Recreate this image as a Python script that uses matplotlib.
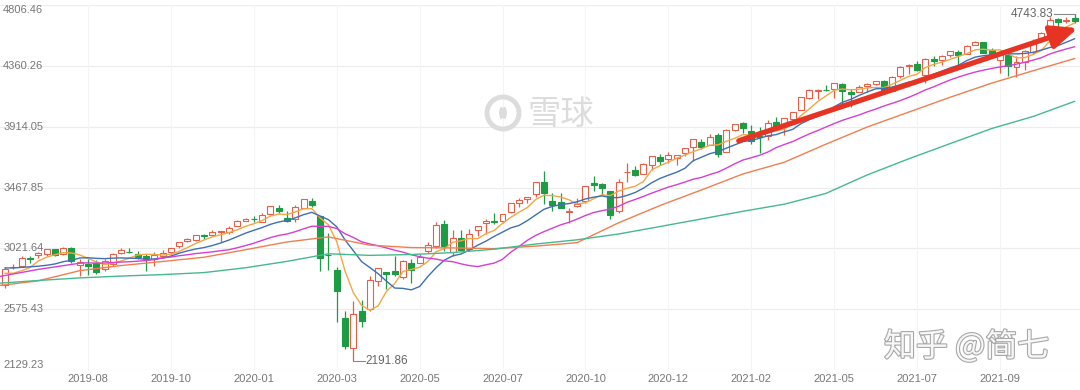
import numpy as np
import matplotlib.pyplot as plt
import matplotlib.transforms as mtransforms
import matplotlib.patheffects as pe
from matplotlib.patches import Ellipse, Arc

plt.rcParams['font.family'] = ['Liberation Sans', 'Noto Sans CJK SC', 'DejaVu Sans']

# weekly candles, S&P 500, week of 2019-06-03 to week of 2021-11-22
open_ = [2751.5, 2885.8, 2889.8, 2951.4, 2971.4, 2979.8, 3017.8, 2981.9, 3024.5, 2898.0,
         2907.0, 2913.5, 2866.7, 2909.0, 2988.4, 2996.4, 2983.5, 2967.0, 2944.2, 2965.8,
         2996.5, 3035.4, 3079.0, 3080.3, 3117.9, 3117.4, 3143.9, 3141.9, 3183.6, 3226.0,
         3240.1, 3218.0, 3271.1, 3321.0, 3247.2, 3235.7, 3318.3, 3369.0, 3257.6, 2974.3,
         2863.9, 2508.6, 2290.7, 2559.0, 2578.3, 2782.5, 2845.6, 2854.7, 2815.0, 2915.5,
         2913.9, 3004.1, 3038.8, 3199.9, 2993.8, 3094.4, 3018.6, 3155.3, 3205.1, 3224.3,
         3219.8, 3288.3, 3356.0, 3380.9, 3418.1, 3507.4, 3371.9, 3363.6, 3285.6, 3333.9,
         3367.3, 3500.0, 3493.5, 3441.4, 3296.2, 3583.0, 3600.2, 3566.8, 3634.2, 3694.7,
         3675.3, 3684.3, 3723.0, 3764.6, 3803.1, 3781.9, 3851.7, 3731.2, 3892.6, 3939.6,
         3885.6, 3842.5, 3844.4, 3949.6, 3916.5, 3969.3, 4034.4, 4124.7, 4179.8, 4185.0,
         4192.0, 4228.3, 4169.9, 4170.2, 4216.5, 4229.3, 4248.3, 4173.4, 4284.9, 4356.5,
         4372.4, 4296.4, 4409.6, 4406.9, 4437.8, 4461.7, 4450.3, 4513.8, 4535.4, 4474.8,
         4403.0, 4442.1, 4348.8, 4385.4, 4463.7, 4553.7, 4610.6, 4701.5, 4689.3, 4712.0]
high = [2884.0, 2910.6, 2964.2, 2964.0, 2995.8, 3017.8, 3017.8, 3028.0, 3028.0, 2944.2,
        2943.3, 2939.1, 2940.4, 2985.9, 3021.0, 3022.0, 2999.2, 2983.8, 2993.3, 3008.3,
        3027.4, 3066.9, 3097.8, 3120.5, 3127.6, 3154.3, 3150.6, 3182.7, 3226.4, 3247.9,
        3258.1, 3283.0, 3329.9, 3337.8, 3293.5, 3337.6, 3385.1, 3393.5, 3259.8, 3136.7,
        2882.6, 2563.0, 2637.0, 2641.4, 2818.6, 2879.2, 2845.6, 2965.0, 2934.3, 2945.8,
        2980.3, 3068.7, 3211.7, 3233.1, 3155.5, 3155.5, 3165.8, 3186.8, 3238.3, 3279.3,
        3272.2, 3352.5, 3387.9, 3400.0, 3509.4, 3588.1, 3425.6, 3428.9, 3320.3, 3393.6,
        3482.3, 3549.9, 3502.4, 3441.4, 3529.0, 3646.0, 3628.5, 3644.3, 3699.2, 3712.4,
        3726.7, 3702.9, 3760.2, 3826.7, 3823.6, 3859.8, 3870.9, 3894.6, 3937.2, 3950.4,
        3928.7, 3914.5, 3960.3, 3983.9, 3978.2, 4020.6, 4129.5, 4191.3, 4194.2, 4218.8,
        4238.0, 4236.4, 4188.7, 4219.6, 4234.1, 4249.7, 4257.2, 4286.1, 4356.2, 4372.9,
        4393.7, 4415.2, 4430.0, 4440.8, 4468.0, 4480.3, 4513.3, 4545.9, 4535.4, 4492.8,
        4465.4, 4457.3, 4430.0, 4475.8, 4559.7, 4608.1, 4718.5, 4714.9, 4717.8, 4743.83]
low = [2728.8, 2868.0, 2882.0, 2912.7, 2952.2, 2963.4, 2966.0, 2976.6, 2914.1, 2822.1,
       2825.7, 2835.0, 2856.0, 2891.9, 2981.5, 2985.6, 2946.0, 2855.9, 2892.7, 2952.9,
       2975.2, 3023.2, 3066.9, 3075.8, 3091.4, 3117.4, 3070.3, 3124.4, 3183.6, 3222.0,
       3212.0, 3214.6, 3263.6, 3281.5, 3214.7, 3214.6, 3315.5, 3328.5, 2855.8, 2860.0,
       2478.9, 2280.5, 2191.86, 2447.5, 2562.2, 2749.0, 2727.1, 2816.8, 2797.9, 2766.6,
       2913.9, 2990.4, 3025.8, 2999.5, 2965.7, 3007.1, 3000.5, 3115.7, 3127.7, 3200.7,
       3204.1, 3284.5, 3327.8, 3354.7, 3399.0, 3349.6, 3293.6, 3322.4, 3209.5, 3323.7,
       3354.5, 3440.5, 3415.0, 3233.9, 3279.7, 3511.9, 3552.6, 3565.9, 3594.4, 3633.4,
       3645.8, 3636.5, 3697.7, 3662.7, 3749.6, 3781.9, 3694.1, 3725.6, 3884.9, 3865.7,
       3789.5, 3723.3, 3819.3, 3901.6, 3853.5, 3939.4, 4034.4, 4118.6, 4118.4, 4176.9,
       4124.7, 4056.9, 4061.4, 4170.2, 4167.6, 4220.3, 4164.4, 4173.4, 4274.9, 4300.6,
       4321.1, 4233.1, 4360.6, 4367.7, 4424.4, 4367.7, 4450.3, 4513.8, 4457.7, 4427.8,
       4305.9, 4288.5, 4278.9, 4329.9, 4447.5, 4537.4, 4595.1, 4630.9, 4672.8, 4672.9]
close = [2873.3, 2887.0, 2950.5, 2941.8, 2990.4, 3013.8, 2976.6, 3025.9, 2932.1, 2918.7,
         2888.7, 2847.1, 2926.5, 2978.7, 3007.4, 2992.1, 2961.8, 2952.0, 2970.3, 2986.2,
         3022.6, 3066.9, 3093.1, 3120.5, 3110.3, 3141.0, 3145.9, 3168.8, 3221.2, 3240.0,
         3234.9, 3265.4, 3329.6, 3295.5, 3225.5, 3327.7, 3380.2, 3337.8, 2954.2, 2972.4,
         2711.0, 2304.9, 2541.5, 2488.7, 2789.8, 2874.6, 2836.7, 2830.7, 2929.8, 2863.7,
         2955.5, 3044.3, 3193.9, 3041.3, 3097.7, 3009.1, 3130.0, 3185.0, 3224.7, 3215.6,
         3271.1, 3351.3, 3372.9, 3397.2, 3508.0, 3427.0, 3341.0, 3319.5, 3298.5, 3348.4,
         3477.1, 3483.8, 3465.4, 3270.0, 3509.4, 3585.2, 3557.5, 3638.4, 3699.1, 3663.5,
         3709.4, 3703.1, 3756.1, 3824.7, 3768.3, 3841.5, 3714.2, 3886.8, 3934.8, 3906.7,
         3811.2, 3841.9, 3943.3, 3913.1, 3974.5, 4019.9, 4128.8, 4185.5, 4180.2, 4181.2,
         4232.6, 4173.9, 4155.9, 4204.1, 4229.9, 4247.4, 4166.5, 4280.7, 4352.3, 4369.6,
         4327.2, 4411.8, 4395.3, 4436.5, 4468.0, 4441.7, 4509.4, 4535.4, 4458.6, 4433.0,
         4455.5, 4357.0, 4391.3, 4471.4, 4544.9, 4605.4, 4697.5, 4682.9, 4698.0, 4690.7]

# moving averages (one value per candle for MA5 / MA10)
ma5 = [2838.5, 2839.6, 2857.8, 2880.9, 2928.6, 2956.7, 2974.6, 2989.7, 2987.8, 2973.4,
       2948.4, 2922.5, 2902.6, 2911.9, 2929.7, 2950.4, 2973.3, 2978.4, 2976.7, 2972.5,
       2978.6, 2999.6, 3027.8, 3057.9, 3082.7, 3106.4, 3122.2, 3137.3, 3157.4, 3183.4,
       3202.2, 3226.1, 3258.2, 3273.1, 3270.2, 3288.7, 3311.7, 3313.3, 3245.1, 3194.5,
       3071.1, 2856.1, 2696.8, 2603.7, 2567.2, 2599.9, 2706.3, 2764.1, 2852.3, 2867.1,
       2883.3, 2924.8, 2997.4, 3019.7, 3066.5, 3077.3, 3094.4, 3092.6, 3129.3, 3152.9,
       3205.3, 3249.5, 3287.1, 3321.6, 3380.1, 3411.3, 3409.2, 3398.5, 3378.8, 3346.9,
       3356.9, 3385.5, 3414.6, 3408.9, 3441.1, 3462.8, 3477.5, 3512.1, 3597.9, 3628.7,
       3653.6, 3682.7, 3706.2, 3731.4, 3752.3, 3778.7, 3781.0, 3807.1, 3829.1, 3856.8,
       3850.7, 3876.3, 3887.6, 3883.2, 3896.8, 3938.5, 3995.9, 4044.4, 4097.8, 4139.1,
       4181.7, 4190.7, 4184.8, 4189.5, 4199.3, 4202.2, 4200.8, 4225.7, 4255.4, 4283.3,
       4299.3, 4348.3, 4371.2, 4388.1, 4407.8, 4430.7, 4450.2, 4478.2, 4482.6, 4475.6,
       4478.4, 4447.9, 4419.1, 4421.6, 4444.0, 4474.0, 4542.1, 4600.4, 4645.7, 4674.9]
ma10 = [2878.3, 2877.8, 2882.1, 2885.7, 2890.8, 2897.6, 2907.1, 2923.8, 2934.4, 2951.0,
        2952.6, 2948.6, 2946.2, 2949.9, 2951.6, 2949.4, 2947.9, 2940.5, 2944.3, 2951.1,
        2964.5, 2986.5, 3003.1, 3017.3, 3027.6, 3042.5, 3060.9, 3082.6, 3107.7, 3133.1,
        3154.3, 3174.2, 3197.8, 3215.3, 3226.8, 3245.5, 3268.9, 3285.8, 3259.1, 3232.4,
        3179.9, 3083.9, 3005.1, 2924.4, 2880.9, 2835.5, 2781.2, 2730.5, 2728.0, 2717.2,
        2741.6, 2815.6, 2880.8, 2936.0, 2966.8, 2980.3, 3009.6, 3045.0, 3074.5, 3109.7,
        3141.3, 3172.0, 3189.9, 3225.5, 3266.5, 3308.3, 3329.4, 3342.8, 3350.2, 3363.5,
        3384.1, 3397.4, 3406.6, 3393.9, 3394.0, 3409.9, 3431.5, 3463.4, 3503.4, 3534.9,
        3558.2, 3580.1, 3609.2, 3664.7, 3690.5, 3716.2, 3731.9, 3756.7, 3780.3, 3804.6,
        3814.7, 3828.7, 3847.4, 3856.2, 3876.8, 3894.6, 3936.1, 3966.0, 3990.5, 4018.0,
        4060.1, 4093.3, 4114.6, 4143.7, 4169.2, 4192.0, 4195.8, 4205.3, 4222.5, 4241.3,
        4250.8, 4274.6, 4298.5, 4321.8, 4345.6, 4365.0, 4399.3, 4424.7, 4435.4, 4441.7,
        4454.6, 4449.1, 4448.7, 4452.1, 4459.8, 4476.2, 4495.0, 4509.8, 4533.7, 4559.5]
# MA20: first three read at candles -1, 4, 9, then one per candle from 10
ma20_idx = [-1, 4, 9] + list(range(10, 130))
ma20 = [2811.6, 2867.5, 2912.7,
        2915.5, 2913.2, 2914.2, 2917.8, 2921.2, 2923.5, 2927.5, 2932.2, 2939.4, 2951.1,
        2958.6, 2967.6, 2974.7, 2983.6, 2989.6, 2996.0, 3004.4, 3011.6, 3026.0, 3042.1,
        3059.4, 3080.4, 3100.5, 3116.3, 3127.2, 3144.0, 3164.9, 3184.2, 3183.4, 3182.8,
        3167.1, 3129.1, 3101.5, 3069.9, 3053.9, 3040.5, 3025.1, 3008.2, 2993.6, 2974.8,
        2960.8, 2949.8, 2943.0, 2930.2, 2923.9, 2907.9, 2895.4, 2887.8, 2901.3, 2913.5,
        2941.5, 2993.8, 3035.4, 3080.8, 3116.7, 3144.3, 3169.5, 3193.9, 3212.4, 3236.6,
        3262.7, 3284.7, 3298.3, 3309.7, 3330.3, 3359.1, 3380.5, 3403.1, 3426.8, 3449.2,
        3471.2, 3488.8, 3507.9, 3529.3, 3542.3, 3563.1, 3581.7, 3610.1, 3641.9, 3669.8,
        3686.5, 3704.4, 3728.3, 3760.5, 3783.7, 3805.4, 3834.0, 3861.4, 3885.4, 3911.3,
        3937.4, 3961.0, 3981.0, 4000.0, 4023.0, 4043.3, 4066.0, 4085.7, 4106.5, 4129.7,
        4155.5, 4184.0, 4206.6, 4232.8, 4257.4, 4278.5, 4297.6, 4315.0, 4329.0, 4341.5,
        4352.7, 4361.9, 4373.6, 4387.0, 4402.7, 4420.6, 4447.2, 4467.3, 4484.6, 4500.6]
# MA30 / MA60 read every 5 candles
slow_idx = list(range(-1, 130, 5))
ma30 = [2746.9, 2783.5, 2858.1, 2895.5, 2925.5, 2956.6, 3011.7, 3068.7, 3105.5, 3045.1,
        3027.5, 3024.8, 3019.7, 3038.1, 3063.5, 3209.1, 3336.0, 3450.3, 3567.7, 3653.8,
        3785.8, 3912.2, 4021.3, 4130.5, 4233.7, 4324.9, 4414.2]
ma60 = [2765.0, 2785.9, 2804.9, 2818.4, 2829.2, 2844.0, 2879.3, 2926.1, 2981.8, 2970.3,
        2976.5, 2990.7, 3015.7, 3053.4, 3084.5, 3127.1, 3181.8, 3237.6, 3293.7, 3345.9,
        3424.6, 3560.6, 3678.7, 3790.4, 3900.7, 3989.3, 4100.0]

y_levels = [2129.23, 2575.43, 3021.64, 3467.85, 3914.05, 4360.26, 4806.46]
tick_pos = [10, 20, 30, 40, 50, 60, 70, 80, 90, 100, 110, 120]
tick_labels = ['2019-08', '2019-10', '2020-01', '2020-03', '2020-05', '2020-07',
               '2020-10', '2020-12', '2021-02', '2021-05', '2021-07', '2021-09']
low_mark = (42, 2191.86)
high_mark = (129, 4743.83)
arrow_start = (88.5, 3811.0)
arrow_end = (129.4, 4638.0)

red = '#e4604a'
green = '#1d9b45'

fig = plt.figure(figsize=(10.8, 3.9), dpi=100)
ax = fig.add_axes([0, 20 / 390, 1, 364.9 / 390])
ax.set_xlim(-0.615, 129.66)
ax.set_ylim(y_levels[0], y_levels[-1])
for s in ax.spines.values():
    s.set_visible(False)

# grid
for v in y_levels:
    ax.axhline(v, color='#ececec', lw=0.8, zorder=0)
for p in tick_pos:
    ax.axvline(p, color='#f4f4f4', lw=0.8, zorder=0)

ax.set_yticks([])
ax.set_xticks(tick_pos, tick_labels)
ax.tick_params(axis='x', length=0, pad=3, labelsize=8, labelcolor='#777777')

trans = mtransforms.blended_transform_factory(ax.transAxes, ax.transData)
for k, v in enumerate(y_levels):
    va = 'bottom' if k == 0 else ('top' if k == len(y_levels) - 1 else 'center')
    ax.text(0.003, v, f'{v:.2f}', transform=trans, ha='left', va=va,
            fontsize=8, color='#777777', zorder=1)

# candles
o = np.array(open_)
c = np.array(close)
h = np.array(high)
l = np.array(low)
x = np.arange(len(c))
up = c >= o
cols = np.where(up, red, green)
lo_b = np.minimum(o, c)
hi_b = np.maximum(o, c)
ax.vlines(x, l, lo_b, colors=cols, lw=0.9, zorder=2)
ax.vlines(x, hi_b, h, colors=cols, lw=0.9, zorder=2)
ax.bar(x, hi_b - lo_b, bottom=lo_b, width=0.72, color=np.where(up, 'white', green),
       edgecolor=cols, linewidth=0.8, zorder=3)

# moving averages
ax.plot(x, ma5, color='#f3a646', lw=1.0, zorder=4)
ax.plot(x, ma10, color='#3f6fb4', lw=1.0, zorder=4)
ax.plot(ma20_idx, ma20, color='#d43fd4', lw=1.0, zorder=4)
ax.plot(slow_idx, ma30, color='#ef7f52', lw=1.0, zorder=4)
ax.plot(slow_idx, ma60, color='#46b98d', lw=1.0, zorder=4)

# min / max markers
ax.plot([low_mark[0], low_mark[0] + 1.4], [low_mark[1]] * 2, color='#888888', lw=0.8, zorder=5)
ax.text(low_mark[0] + 1.5, low_mark[1], f'{low_mark[1]:.2f}', ha='left', va='center',
        fontsize=8.5, color='#666666', zorder=5)
ax.plot([high_mark[0] - 2.5, high_mark[0]], [high_mark[1]] * 2, color='#888888', lw=0.8, zorder=5)
ax.text(high_mark[0] - 2.6, high_mark[1], f'{high_mark[1]:.2f}', ha='right', va='center',
        fontsize=8.5, color='#666666', zorder=5)

# red trend arrow
ax.annotate('', xy=arrow_end, xytext=arrow_start, zorder=6,
            arrowprops=dict(arrowstyle='-|>,head_length=0.8,head_width=0.35',
                            mutation_scale=20, lw=3.8, color='#e63323',
                            shrinkA=0, shrinkB=0))

# watermarks
wm = '#dcdcdc'
cx, cy = 503 / 1080, 1 - 113 / 390
fig.patches.append(Ellipse((cx, cy), 32 / 1080, 32 / 390,
                           transform=fig.transFigure, fill=False, lw=3.5, ec=wm))
fig.patches.append(Arc((495 / 1080, cy), 20 / 1080, 20 / 390, theta1=-60, theta2=60,
                       transform=fig.transFigure, lw=2.8, ec=wm))
fig.patches.append(Arc((511 / 1080, cy), 20 / 1080, 20 / 390, theta1=120, theta2=240,
                       transform=fig.transFigure, lw=2.8, ec=wm))
fig.text(528 / 1080, 1 - 114 / 390, '雪球', ha='left', va='center', fontsize=24,
         color=wm, family=['Noto Sans CJK SC', 'DejaVu Sans'])
t = fig.text(884 / 1080, 1 - 347 / 390, '知乎 @简七', ha='left', va='center', fontsize=23,
             color='#f7f7f7', family=['Noto Sans CJK SC', 'DejaVu Sans'])
t.set_path_effects([pe.withStroke(linewidth=1.6, foreground='#a8a8a8')])

fig.savefig('out.png', dpi=100)
